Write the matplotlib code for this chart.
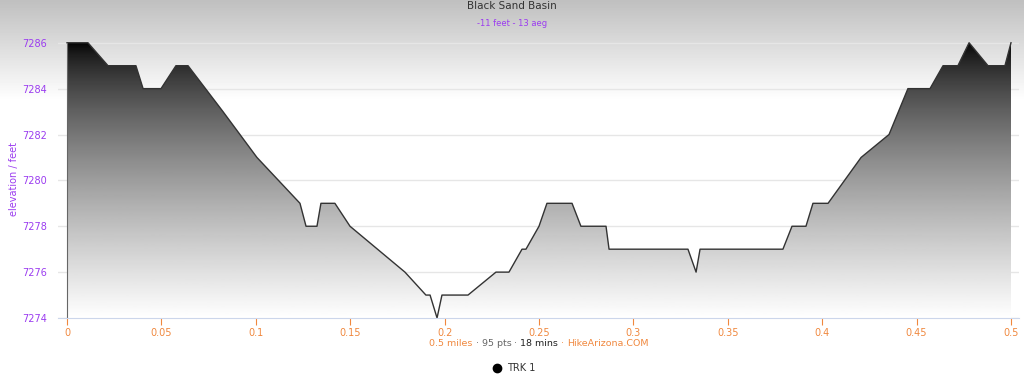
import matplotlib
matplotlib.use("Agg")
import matplotlib.pyplot as plt
import numpy as np
from matplotlib.patches import Polygon

# distance (miles) and elevation (feet)
miles = [0, 0.0111, 0.0217, 0.0365, 0.0403, 0.0498, 0.0577, 0.0641, 0.0826,
         0.1006, 0.1234, 0.1266, 0.1324, 0.1345, 0.1419, 0.1499, 0.179, 0.1901,
         0.1923, 0.196, 0.1986, 0.2124, 0.2272, 0.2341, 0.241, 0.2431, 0.25,
         0.2542, 0.2675, 0.2722, 0.2855, 0.2871, 0.3289, 0.3332, 0.3353, 0.3792,
         0.384, 0.3914, 0.3951, 0.4031, 0.4206, 0.4354, 0.4454, 0.4571, 0.464,
         0.4719, 0.4778, 0.4878, 0.4968, 0.5]
feet = [7286, 7286, 7285, 7285, 7284, 7284, 7285, 7285, 7283,
        7281, 7279, 7278, 7278, 7279, 7279, 7278, 7276, 7275,
        7275, 7274, 7275, 7275, 7276, 7276, 7277, 7277, 7278,
        7279, 7279, 7278, 7278, 7277, 7277, 7276, 7277, 7277,
        7278, 7278, 7279, 7279, 7281, 7282, 7284, 7284, 7285,
        7285, 7286, 7285, 7285, 7286]
xticks = [0, 0.05, 0.1, 0.15, 0.2, 0.25, 0.3, 0.35, 0.4, 0.45, 0.5]
xtick_labels = ["0", "0.05", "0.1", "0.15", "0.2", "0.25", "0.3", "0.35", "0.4", "0.45", "0.5"]
yticks = [7274, 7276, 7278, 7280, 7282, 7284, 7286]

purple = "#9b3cf0"
orange = "#f0883e"

fig = plt.figure(figsize=(10.24, 3.82), dpi=100)

# page background: grey fading to white near the top
bg = fig.add_axes([0, 0, 1, 1], zorder=-10)
H = 382
rows = np.ones(H)
top = np.arange(100)
rows[:100] = 0.75 + 0.25 * (top / 100.0)
bg.imshow(np.repeat(rows[:, None], 2, axis=1), cmap="gray", vmin=0, vmax=1,
          aspect="auto", extent=[0, 1, 0, 1], origin="upper")
bg.axis("off")

ax = fig.add_axes([58 / 1024, 1 - 318 / 382, 961 / 1024, 278 / 382])
ax.patch.set_alpha(0)
px = 0.5 / 944
ax.set_xlim(-9 * px, 0.5 + 8 * px)
ax.set_ylim(7274, 7286.12)

for y in yticks:
    ax.axhline(y, color="#e6e6e6", lw=1, zorder=0)

# gradient area under the line
verts = np.column_stack([miles + [miles[-1], miles[0]], feet + [7274, 7274]])
poly = Polygon(verts, closed=True, facecolor="none", edgecolor="none")
ax.add_patch(poly)
t = np.linspace(0, 1, 256)
grad = (t ** 0.7)[:, None]
im = ax.imshow(grad, cmap="gray", vmin=0, vmax=1, aspect="auto",
               extent=[0, 0.5, 7274, 7286], origin="upper", zorder=1)
im.set_clip_path(poly)
ax.plot(miles, feet, color="#333333", lw=1, zorder=2)
ax.plot([0, 0], [7274, 7286], color="#666666", lw=0.8, zorder=2)

for s in ["top", "right", "left"]:
    ax.spines[s].set_visible(False)
ax.spines["bottom"].set_color("#ccd6eb")

ax.set_xticks(xticks)
ax.set_xticklabels(xtick_labels)
ax.tick_params(axis="x", colors=orange, labelsize=7, length=5, width=0.8, pad=2)
ax.set_yticks(yticks)
ax.tick_params(axis="y", colors=purple, labelsize=7, length=0, pad=8)
ax.set_ylabel("elevation / feet", color=purple, fontsize=7)
ax.yaxis.set_label_coords(-39 / 961, 0.5)

fig.text(0.5, 1 - 6 / 382, "Black Sand Basin", ha="center", va="center",
         fontsize=7.5, color="#333333")
fig.text(0.5, 1 - 23 / 382, "-11 feet - 13 aeg", ha="center", va="center",
         fontsize=6, color=purple)

# footer made of coloured pieces
parts = [("0.5 miles", orange), (" · ", "#666666"), ("95 pts", "#666666"),
         (" · ", "#666666"), ("18 mins", "#222222"), (" · ", orange),
         ("HikeArizona.COM", orange)]
fig.canvas.draw()
r = fig.canvas.get_renderer()
texts = []
total = 0
for s, c in parts:
    tt = fig.text(0, 1 - 343 / 382, s, color=c, fontsize=6.8, va="center")
    w = tt.get_window_extent(r).width
    texts.append((tt, w))
    total += w
x0 = 539 - total / 2
for tt, w in texts:
    tt.set_x(x0 / 1024)
    x0 += w

fig.lines.append(plt.Line2D([497 / 1024], [1 - 368 / 382], marker="o", color="black",
                            markersize=6, transform=fig.transFigure))
fig.text(507 / 1024, 1 - 368 / 382, "TRK 1", fontsize=7, color="#333333", va="center")

fig.savefig("out.png", dpi=100)
